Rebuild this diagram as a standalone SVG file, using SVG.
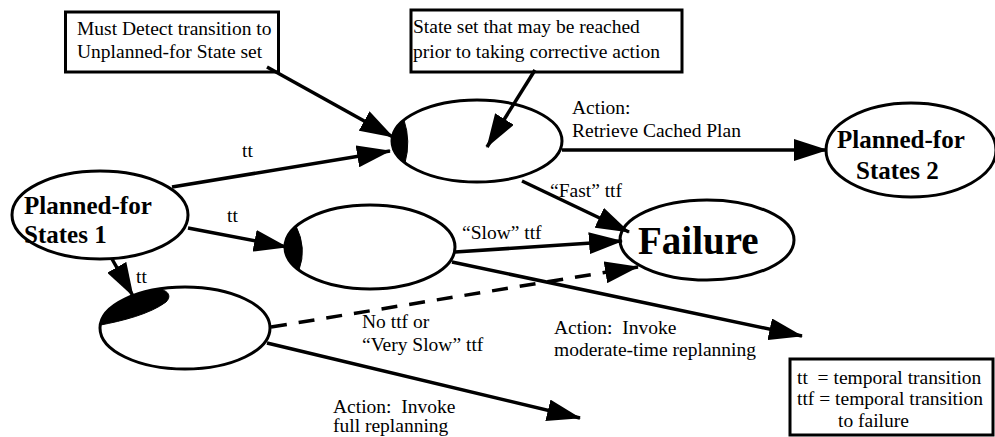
<svg xmlns="http://www.w3.org/2000/svg" width="995" height="437" viewBox="0 0 995 437">
<style>
text{font-family:"Liberation Serif","Times New Roman",serif;fill:#000}
.t{font-size:19.5px}
.b{font-size:25px;font-weight:bold}
.f{font-size:39px;font-weight:bold}
.node{fill:#fff;stroke:#000;stroke-width:3}
.box{fill:#fff;stroke:#000;stroke-width:3}
.fill{fill:#000;stroke:#000;stroke-width:1}
.c{fill:none;stroke:#000;stroke-width:3.5}
.d{fill:none;stroke:#000;stroke-width:3.5;stroke-dasharray:16 12}
</style>
<defs>
<marker id="ah" markerUnits="userSpaceOnUse" viewBox="0 0 34 22" markerWidth="34" markerHeight="22" refX="33" refY="11" orient="auto">
<path d="M0,0 L34,11 L0,22 Z" fill="#000"/>
</marker>
</defs>

<g id="note-detect">
<rect class="box" x="65.5" y="12" width="213" height="60"/>
<text class="t" x="77" y="35">Must Detect transition to</text>
<text class="t" x="77" y="58">Unplanned-for State set</text>
</g>

<g id="note-stateset">
<rect class="box" x="411" y="10" width="271" height="62"/>
<text class="t" x="413" y="33">State set that may be reached</text>
<text class="t" x="413" y="58">prior to taking corrective action</text>
</g>

<g id="pfs1">
<ellipse class="node" cx="100" cy="215" rx="88" ry="44"/>
<text class="b" x="24" y="214">Planned-for</text>
<text class="b" x="24" y="243">States 1</text>
</g>

<g id="stateA">
<ellipse class="node" cx="477" cy="141" rx="85" ry="41"/>
<path class="fill" d="M404,120 A85,41 0 0 0 405,163 Q411,141 404,120 Z"/>
</g>

<g id="stateB">
<ellipse class="node" cx="370" cy="247" rx="85" ry="42"/>
<path class="fill" d="M296,226 A85,42 0 0 0 299,270 Q307,248 296,226 Z"/>
</g>

<g id="stateC">
<ellipse class="node" cx="185" cy="328" rx="85" ry="41"/>
<path class="fill" d="M100.5,325 A85,41 0 0 1 157,289.3 C166,289 173,295 166,302 C150,314 122,321 100.5,325 Z"/>
</g>

<g id="pfs2">
<ellipse class="node" cx="911" cy="150" rx="85" ry="47"/>
<text class="b" x="837" y="148">Planned-for</text>
<text class="b" x="856" y="179">States 2</text>
</g>

<g id="failure">
<ellipse class="node" cx="707" cy="240" rx="87" ry="40"/>
<text class="f" x="638" y="254">Failure</text>
</g>

<g id="legend">
<rect class="box" x="790" y="359" width="203" height="76"/>
<text class="t" x="797" y="384" xml:space="preserve">tt  = temporal transition</text>
<text class="t" x="797" y="405">ttf = temporal transition</text>
<text class="t" x="838" y="427">to failure</text>
</g>

<g id="connectors">
<line class="c" x1="267" y1="67" x2="393" y2="137" marker-end="url(#ah)"/>
<line class="c" x1="535" y1="70" x2="487" y2="147" marker-end="url(#ah)"/>
<line class="c" x1="172" y1="187" x2="390" y2="151" marker-end="url(#ah)"/>
<line class="c" x1="188" y1="228" x2="287" y2="247" marker-end="url(#ah)"/>
<line class="c" x1="112" y1="259" x2="133" y2="296" marker-end="url(#ah)"/>
<line class="c" x1="562" y1="150" x2="827" y2="150" marker-end="url(#ah)"/>
<line class="c" x1="522" y1="181" x2="629" y2="232" marker-end="url(#ah)"/>
<line class="c" x1="455" y1="252" x2="622" y2="241" marker-end="url(#ah)"/>
<line class="c" x1="452" y1="262" x2="802" y2="336" marker-end="url(#ah)"/>
<line class="d" x1="271" y1="327" x2="638" y2="267" marker-end="url(#ah)"/>
<line class="c" x1="267" y1="343" x2="580" y2="418" marker-end="url(#ah)"/>
</g>

<g id="labels">
<text class="t" x="242" y="157">tt</text>
<text class="t" x="227" y="222">tt</text>
<text class="t" x="136" y="283">tt</text>
<text class="t" x="572" y="114">Action:</text>
<text class="t" x="572" y="137">Retrieve Cached Plan</text>
<text class="t" x="550" y="197">“Fast” ttf</text>
<text class="t" x="462" y="239">“Slow” ttf</text>
<text class="t" x="362" y="328">No ttf or</text>
<text class="t" x="362" y="351">“Very Slow” ttf</text>
<text class="t" x="554" y="334" xml:space="preserve">Action:  Invoke</text>
<text class="t" x="554" y="356">moderate-time replanning</text>
<text class="t" x="333" y="413" xml:space="preserve">Action:  Invoke</text>
<text class="t" x="333" y="432">full replanning</text>
</g>
</svg>
